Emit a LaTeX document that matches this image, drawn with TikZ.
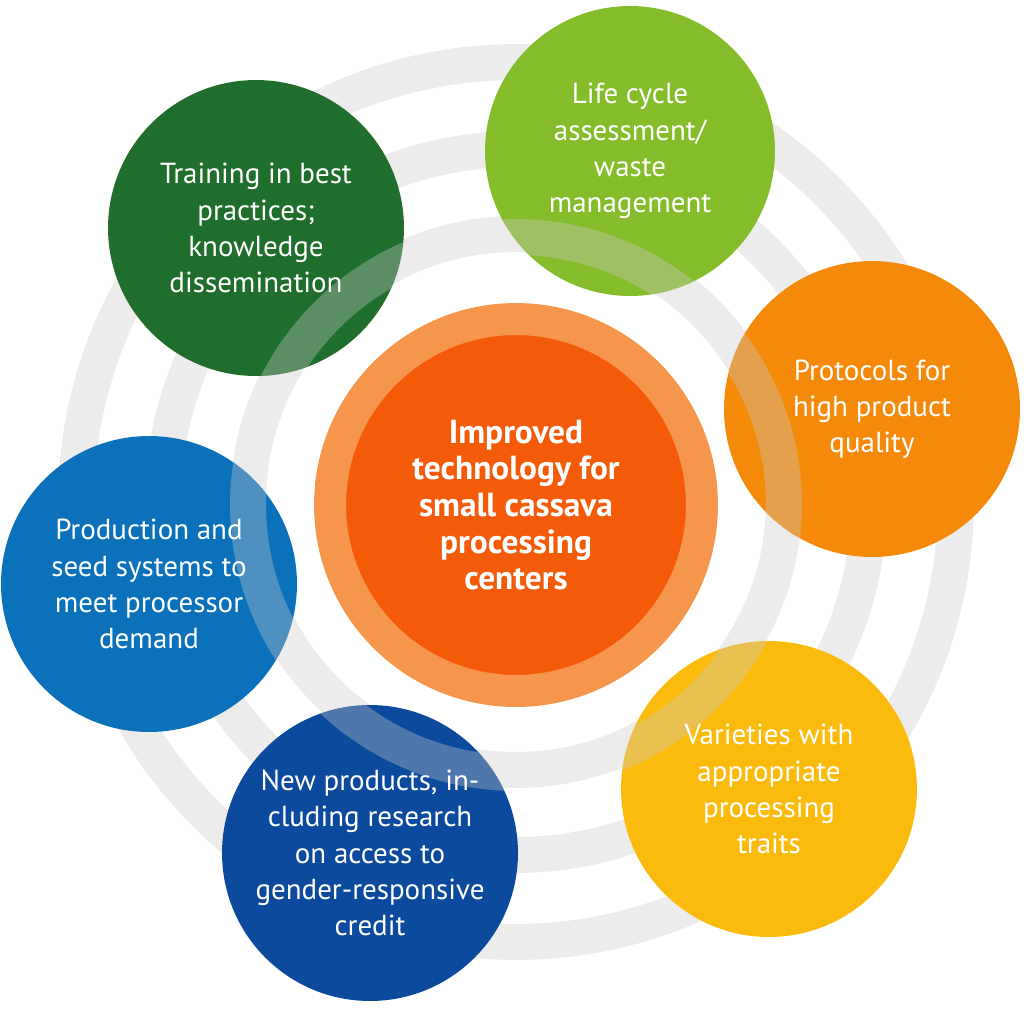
\documentclass[tikz,border=0pt]{standalone}
\usepackage{fontspec}
\setmainfont{PT Sans}
\definecolor{trainc}{HTML}{1F6E2C}
\definecolor{lifec}{HTML}{85BD2A}
\definecolor{protc}{HTML}{F5890A}
\definecolor{varc}{HTML}{FBBB0C}
\definecolor{newc}{HTML}{0B4A9C}
\definecolor{prodc}{HTML}{0A71BA}
\definecolor{hubout}{HTML}{F6964C}
\definecolor{hubin}{HTML}{F45B09}
\definecolor{ringbg}{gray}{0.925}
\definecolor{ringfg}{gray}{0.79}
\begin{document}
\begin{tikzpicture}[x=0.02cm,y=-0.02cm,
    ring/.style={draw=ringbg,line width=0.72cm},
    sat/.style={circle,minimum size=5.92cm,inner sep=0pt,text=white,align=center,
      font=\fontsize{16.5}{20.6}\selectfont,
      path picture={\draw[ringfg,opacity=.36,line width=0.72cm] (hub.center) circle[radius=5.36cm];}}]
    \useasboundingbox (0,0) rectangle (1024,1019);
    \node[circle,fill=hubin,draw=hubout,line width=0.64cm,minimum size=7.44cm,text=white,align=center,
      font=\bfseries\fontsize{19}{20.8}\selectfont] (hub) at (516,505)
      {Improved\\technology for\\small cassava\\processing\\centers};
    % rings round the hub
    \draw[ring] (516,502) circle[radius=5.36cm];
    \draw[ring] (516,502) circle[radius=7.06cm];
    \draw[ring] (516,502) circle[radius=8.8cm];
    % the six topics
    \node[sat,fill=trainc] (train) at (256,228) {Training in best\\practices;\\knowledge\\dissemination};
    \node[sat,fill=lifec,minimum size=5.8cm] (life) at (630,151) {Life cycle\\assessment/\\waste\\management};
    \node[sat,fill=protc] (prot) at (872,409) {Protocols for\\high product\\quality};
    \node[sat,fill=varc] (vari) at (769,789) {Varieties with\\appropriate\\processing\\traits};
    \node[sat,fill=newc] (newp) at (370,853) {New products, in-\\cluding research\\on access to\\gender-responsive\\credit};
    \node[sat,fill=prodc] (prod) at (149,584) {Production and\\seed systems to\\meet processor\\demand};
\end{tikzpicture}
\end{document}
